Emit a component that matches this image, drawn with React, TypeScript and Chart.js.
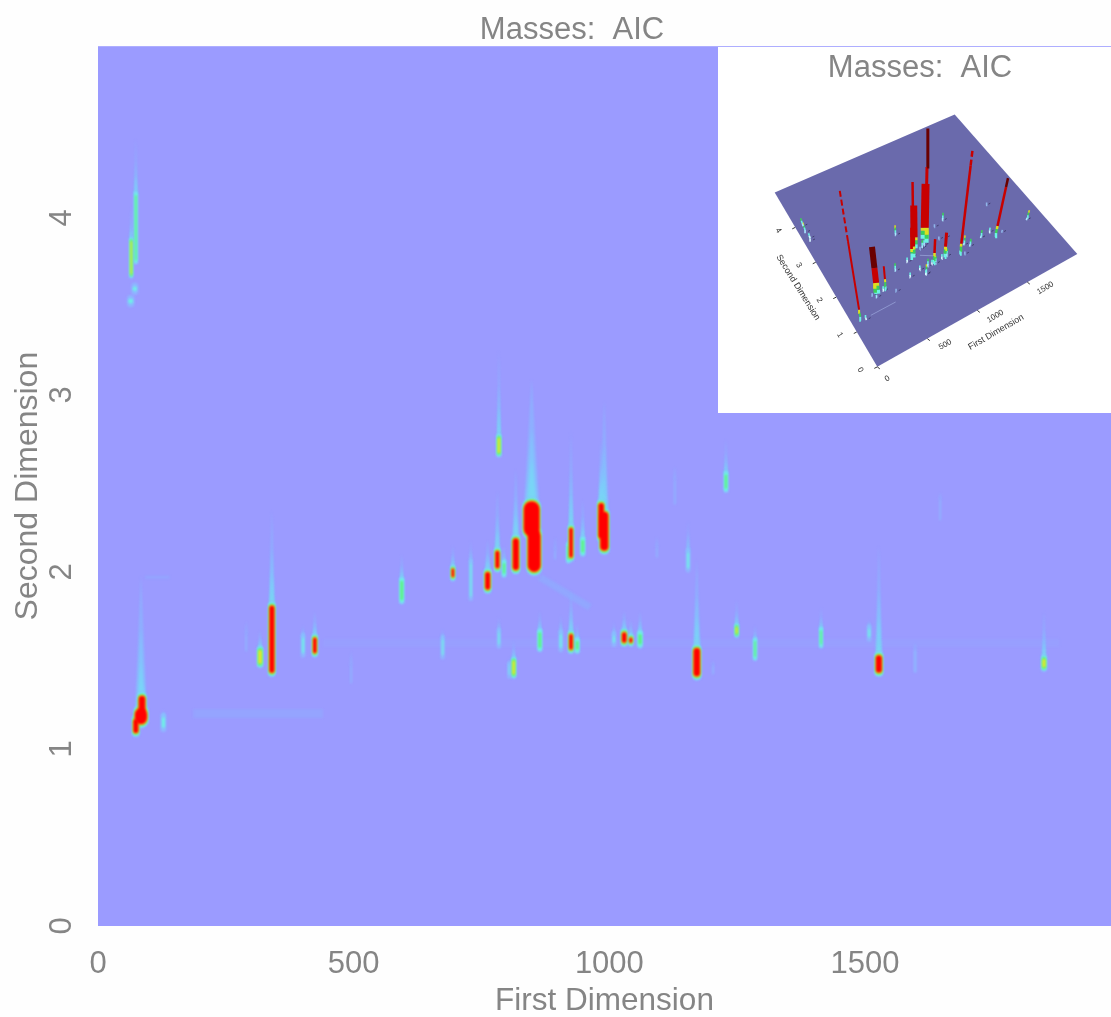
import React, { useEffect, useRef } from "react";
import { Chart, registerables } from "chart.js";

Chart.register(...registerables);

type Peak = number[]; // first dimension, low, high, width (first-dimension units), tail tip (second dimension)

const chartTitle = "Masses:  AIC";
const firstAxisTitle = "First Dimension";
const secondAxisTitle = "Second Dimension";
const firstTicks = [0, 500, 1000, 1500];
const secondTicks = [0, 1, 2, 3, 4];

const redPeaks: Peak[] = [
  [84, 1.14, 1.23, 24, 1.98], [86, 1.2, 1.3, 13, 1.4], [74, 1.09, 1.17, 10, 1.17],
  [340, 1.43, 1.81, 10, 2.35], [424, 1.54, 1.63, 7, 1.78], [694, 1.97, 2.02, 5, 2.15],
  [762, 1.9, 2.0, 10, 2.18], [781, 2.02, 2.12, 8, 2.46], [817, 2.01, 2.19, 12, 2.58],
  [848, 2.2, 2.4, 31, 3.09], [853, 2.0, 2.24, 25, 2.24], [925, 2.08, 2.25, 7, 2.8],
  [984, 2.19, 2.39, 11, 2.75], [990, 2.12, 2.34, 16, 2.97], [925, 1.56, 1.65, 7, 1.9],
  [1029, 1.6, 1.66, 9, 1.78], [1042, 1.6, 1.63, 6, 1.73], [1171, 1.41, 1.57, 13, 2.07],
  [1527, 1.43, 1.53, 12, 2.15],
];
const yellowPeaks: Peak[] = [
  [317, 1.48, 1.56, 7, 1.67], [784, 2.67, 2.76, 5, 3.25], [813, 1.42, 1.5, 5, 1.61],
  [1249, 1.65, 1.69, 4, 1.84], [1850, 1.46, 1.51, 6, 1.78], [65, 3.68, 3.87, 3, 4.07],
];
const greenPeaks: Peak[] = [
  [594, 1.84, 1.95, 5, 2.1], [794, 1.99, 2.05, 4, 2.15], [948, 2.11, 2.18, 5, 2.41],
  [864, 1.57, 1.66, 5, 1.78], [937, 1.56, 1.61, 5, 1.71], [1060, 1.59, 1.65, 6, 1.78],
  [1414, 1.59, 1.67, 3, 1.8], [1285, 1.52, 1.61, 3, 1.7], [74, 3.76, 4.13, 3, 4.45],
  [920, 2.07, 2.15, 4, 2.2], [1228, 2.47, 2.55, 4, 2.75],
];
const cyanPeaks: Peak[] = [
  [128, 1.12, 1.18, 6, 1.22], [729, 1.86, 2.05, 3, 2.18], [1154, 2.02, 2.11, 4, 2.29],
  [784, 1.59, 1.66, 3, 1.75], [905, 1.57, 1.65, 4, 1.76], [1009, 1.6, 1.64, 4, 1.72],
  [804, 1.42, 1.47, 2, 1.52], [1508, 1.63, 1.68, 4, 1.74], [72, 3.59, 3.61, 8, 3.62],
  [64, 3.52, 3.54, 9, 3.55], [401, 1.54, 1.63, 4, 1.7], [674, 1.53, 1.62, 3, 1.68],
];
const faintPeaks: Peak[] = [
  [495, 1.37, 1.47, 3, 1.55], [894, 2.07, 2.12, 3, 2.2], [1093, 2.08, 2.14, 3, 2.2],
  [1128, 2.38, 2.52, 3, 2.6], [1203, 1.42, 1.47, 3, 1.5], [1598, 1.43, 1.56, 5, 1.6],
  [1647, 2.29, 2.41, 3, 2.45], [290, 1.55, 1.65, 3, 1.72],
];
// faint ridges: first0, second0, first1, second1
const ridges: number[][] = [
  [186, 1.2, 440, 1.2], [864, 1.97, 962, 1.8], [92, 1.97, 140, 1.97], [440, 1.6, 1880, 1.6],
];
const ridgeAlpha = [0.25, 0.35, 0.3, 0.12];
const ridgeWeight = [9, 7, 3, 8];

// Inset surface spikes
const spikeFirst = [84, 340, 424, 850, 858, 800, 1000, 990, 925, 1040, 1170, 1527];
const spikeSecond = [1.2, 1.6, 1.58, 2.2, 2.2, 2.0, 2.3, 2.3, 1.6, 1.62, 1.5, 1.48];
const spikeHeight = [133, 47, 24, 67, 43, 30, 110, 55, 25, 25, 105, 59];
const spikeWeight = [2, 6, 2, 2.5, 7, 5, 3, 8, 2.5, 3, 2.5, 2.5];
const spikeDarkFrom = [1, 0.55, 1, 1, 1, 1, 0.65, 1, 1, 1, 1, 0.85];
const spikeBrokenFrom = [0.6, 1, 1, 1, 1, 1, 1, 1, 1, 1, 0.85, 1];

const COLORS = { faint: "rgba(135,195,255,0.7)", cyan: "#6df2e6", green: "#5cf07a", yellow: "#e6e52a", red: "#ff0000" };
const FIRST_MAX = 1981;
const SECOND_MAX = 4.97;

function lineDs(pts: { x: number; y: number }[], color: string, width: any, extra: any = {}) {
  return { data: pts, showLine: true, pointRadius: 0, borderColor: color, borderWidth: width, borderCapStyle: "butt", fill: false, ...extra };
}
function polyDs(pts: { x: number; y: number }[], color: string) {
  return { data: pts, showLine: true, pointRadius: 0, borderWidth: 0, borderColor: "transparent", backgroundColor: color, fill: "shape" };
}
const unitWidth = (w: number) => (ctx: any) => {
  const s = ctx.chart.scales.x;
  return Math.max(0.5, s.getPixelForValue(w) - s.getPixelForValue(0));
};
// how much of the second dimension a round cap of a line `w` first-dimension units wide covers
const capSpan = (w: number) => ((w / 2) * (1013 / FIRST_MAX)) * (SECOND_MAX / 880);

function mainDatasets() {
  const groups: [Peak[], number][] = [[faintPeaks, 0], [cyanPeaks, 1], [greenPeaks, 2], [yellowPeaks, 3], [redPeaks, 4]];
  const tails: any[] = [], cy: any[] = [], gr: any[] = [], ye: any[] = [], re: any[] = [], glow: any[] = [];
  ridges.forEach(([a, b, c, d], i) => {
    tails.push(lineDs([{ x: a, y: b }, { x: c, y: d }], `rgba(130,190,255,${ridgeAlpha[i]})`, ridgeWeight[i]));
  });
  groups.forEach(([rows, level]) => {
    rows.forEach(([x, lo, hi, w, tip]) => {
      const len = tip - hi;
      if (len > 0.02) {
        const tri = (bw: number, frac: number, col: string) =>
          tails.push(polyDs([{ x: x - bw / 2, y: hi }, { x, y: hi + len * frac }, { x: x + bw / 2, y: hi }, { x: x - bw / 2, y: hi }], col));
        tri(w * 0.8 + 4, 1, level >= 2 ? "rgba(130,195,255,0.5)" : "rgba(130,195,255,0.35)");
        if (level >= 1) tri(w * 0.7 + 3, 0.6, "rgba(115,225,245,0.55)");
        if (level >= 2) tri(w * 0.5 + 2, 0.35, "rgba(105,245,225,0.9)");
        if (level >= 3) tri(w * 0.45 + 1, 0.14, "rgba(95,240,130,0.95)");
      }
      const band = (extraW: number, extraY: number, col: string, bucket: any[]) => {
        const wide = w + extraW;
        const cap = capSpan(wide);
        let a = lo - extraY + cap, b = hi + extraY - cap;
        if (b - a < 0.002) { const m = (a + b) / 2; a = m - 0.001; b = m + 0.001; }
        bucket.push(lineDs([{ x, y: a }, { x, y: b }], col, unitWidth(wide), { borderCapStyle: "round" }));
      };
      if (level === 0) band(0, 0, COLORS.faint, cy);
      if (level >= 1) band(5, 0.024, COLORS.faint, glow);
      if (level >= 1) band(level === 1 ? 0 : 3.5, level === 1 ? 0 : 0.017, COLORS.cyan, cy);
      if (level >= 2) band(level === 2 ? 0 : 2, level === 2 ? 0 : 0.01, COLORS.green, gr);
      if (level >= 3) band(level === 3 ? 0 : 1, level === 3 ? 0 : 0.005, COLORS.yellow, ye);
      if (level >= 4) band(0, 0, COLORS.red, re);
    });
  });
  // Chart.js paints the first dataset last, so the red cores go first
  return [...re, ...ye, ...gr, ...cy, ...glow, ...tails];
}

// Inset projection: plane corners in view coordinates for (first, second)
const CORNER_00 = { x: 159.3, y: 275.7 };
const CORNER_10 = { x: 359.3, y: 162.3 };
const CORNER_11 = { x: 236.7, y: 22.3 };
const CORNER_01 = { x: 56.7, y: 100.7 };
const FIRST_RANGE = 2000;
const SECOND_RANGE = 5;

function project(first: number, second: number) {
  const u = first / FIRST_RANGE, v = second / SECOND_RANGE;
  const a = (1 - u) * (1 - v), b = u * (1 - v), c = u * v, d = (1 - u) * v;
  return {
    x: a * CORNER_00.x + b * CORNER_10.x + c * CORNER_11.x + d * CORNER_01.x,
    y: a * CORNER_00.y + b * CORNER_10.y + c * CORNER_11.y + d * CORNER_01.y,
  };
}
function riser(first: number, second: number, h0: number, h1: number) {
  const p = project(first, second);
  const lean = (p.x - 200) / 353;
  return [{ x: p.x + lean * h0, y: p.y - h0 }, { x: p.x + lean * h1, y: p.y - h1 }];
}

function insetDatasets() {
  const out: any[] = [];
  const plane = [project(0, 0), project(FIRST_RANGE, 0), project(FIRST_RANGE, SECOND_RANGE), project(0, SECOND_RANGE), project(0, 0)];
  const low: any[] = [];
  ridges.slice(0, 2).forEach(([a, b, c, d]) => low.push(lineDs([project(a, b), project(c, d)], "rgba(150,160,215,0.8)", 1)));
  const speck = (rows: Peak[], h: number, cols: string[]) =>
    rows.forEach(([x, lo, hi]) => {
      const mid = (lo + hi) / 2;
      cols.forEach((col, i) => low.push(lineDs(riser(x, mid, (h * i) / cols.length, (h * (i + 1)) / cols.length), col, 1.6)));
      low.push(lineDs([project(x + 25, mid), project(x + 45, mid)], "rgba(35,35,70,0.6)", 1));
    });
  speck(faintPeaks, 3, ["#8fb4e8"]);
  speck(cyanPeaks, 5, ["#d6f5ff", COLORS.cyan]);
  speck(greenPeaks, 8, ["#a9e8ff", COLORS.cyan, "#3ccf5a"]);
  speck(yellowPeaks, 10, ["#a9e8ff", COLORS.cyan, "#3ccf5a", "#d8d820"]);
  const spikes: any[] = [];
  spikeFirst.forEach((f, i) => {
    const s = spikeSecond[i], h = spikeHeight[i], w = spikeWeight[i];
    const layer = (a: number, b: number, col: string, extra: any = {}) =>
      spikes.push(lineDs(riser(f, s, a, b), col, w, extra));
    layer(0, 4, COLORS.cyan);
    layer(4, 8, "#3ccf5a");
    layer(8, 11, "#dede20");
    const broken = spikeBrokenFrom[i], dark = spikeDarkFrom[i];
    const solidTo = Math.min(broken, dark) * h;
    layer(11, solidTo, "#c80000");
    if (broken < 1) layer(broken * h, h, "#c80000", { borderDash: [6, 3] });
    if (dark < 1) layer(dark * h, h, "#6a0000");
  });
  const marks: any[] = [];
  firstTicks.forEach((t) => {
    const p = project(t, 0);
    marks.push(lineDs([p, { x: p.x + 2.5, y: p.y + 2 }], "#333", 1));
  });
  secondTicks.forEach((t) => {
    const p = project(0, t);
    marks.push(lineDs([p, { x: p.x - 3, y: p.y + 1.5 }], "#333", 1));
  });
  out.push(...spikes.reverse(), ...low, ...marks, polyDs(plane, "#6a6aac"));
  return out;
}

const plotBackground = {
  id: "plotBackground",
  beforeDatasetsDraw(chart: any) {
    const { ctx, chartArea: a } = chart;
    ctx.save();
    ctx.fillStyle = "#9b9bff";
    ctx.fillRect(a.left, a.top, a.right - a.left, a.bottom - a.top);
    ctx.restore();
  },
};
const softFocus = (id: string, px: number) => ({
  id,
  beforeDatasetsDraw(chart: any) {
    chart.ctx.save();
    chart.ctx.filter = `blur(${px}px)`;
  },
  afterDatasetsDraw(chart: any) {
    chart.ctx.restore();
  },
});
const insetLabels = {
  id: "insetLabels",
  afterDatasetsDraw(chart: any) {
    const { ctx, scales } = chart;
    const put = (text: string, vx: number, vy: number, angle: number, size: number) => {
      ctx.save();
      ctx.translate(scales.x.getPixelForValue(vx), scales.y.getPixelForValue(vy));
      ctx.rotate((angle * Math.PI) / 180);
      ctx.font = `${size}px "Liberation Sans"`;
      ctx.fillStyle = "#333";
      ctx.textAlign = "center";
      ctx.textBaseline = "middle";
      ctx.fillText(text, 0, 0);
      ctx.restore();
    };
    firstTicks.forEach((t) => {
      const p = project(t, 0);
      put(String(t), p.x + (t === 0 ? 10 : 18), p.y + (t === 0 ? 12 : 6), -30, 8);
    });
    secondTicks.forEach((t) => {
      const p = project(0, t);
      put(String(t), p.x - 17, p.y + 3, 58, 8);
    });
    put(firstAxisTitle, 278, 241, -30, 9);
    put(secondAxisTitle, 80, 196, 58, 9);
  },
};

const GREY = "#858585";
const FONT = '"Liberation Sans", Arial, sans-serif';
const useTicks = (values: number[]) => (s: any) => { s.ticks = values.map((value) => ({ value })); };

export default function App() {
  const mainRef = useRef<HTMLCanvasElement>(null);
  const insetRef = useRef<HTMLCanvasElement>(null);

  useEffect(() => {
    document.body.style.margin = "0";
    const main = new Chart(mainRef.current as any, {
      type: "scatter",
      data: { datasets: mainDatasets() as any },
      plugins: [plotBackground, softFocus("softMain", 1)],
      options: {
        animation: false,
        responsive: false,
        layout: { padding: { left: 33 } },
        plugins: {
          legend: { display: false },
          tooltip: { enabled: false },
          title: {
            display: true,
            text: chartTitle,
            color: GREY,
            font: { family: FONT, size: 31, weight: "normal", lineHeight: 1.2 },
            padding: { top: 12, bottom: -3 },
          },
        },
        scales: {
          x: {
            type: "linear",
            min: 0,
            max: FIRST_MAX,
            afterBuildTicks: useTicks(firstTicks),
            afterFit: (s: any) => { s.height = 91; },
            grid: { display: false, drawTicks: true, tickLength: 20 },
            border: { display: false },
            ticks: { autoSkip: false, maxRotation: 0, padding: 0, color: GREY, font: { family: FONT, size: 31 }, callback: (v: any) => String(v) },
            title: { display: true, text: firstAxisTitle, color: GREY, font: { family: FONT, size: 31.5, lineHeight: 1.2 }, padding: { top: 0, bottom: -3 } },
          },
          y: {
            type: "linear",
            min: 0,
            max: SECOND_MAX,
            afterBuildTicks: useTicks(secondTicks),
            afterFit: (s: any) => { s.width = 65; },
            grid: { display: false, drawTicks: true, tickLength: 27 },
            border: { display: false },
            ticks: { autoSkip: false, minRotation: 90, maxRotation: 90, crossAlign: "center", padding: 0, color: GREY, font: { family: FONT, size: 31 }, callback: (v: any) => String(v) },
            title: { display: true, text: secondAxisTitle, color: GREY, font: { family: FONT, size: 32, lineHeight: 1.2 }, padding: { top: -24, bottom: 0 } },
          },
        },
      } as any,
    });

    const inset = new Chart(insetRef.current as any, {
      type: "scatter",
      data: { datasets: insetDatasets() as any },
      plugins: [insetLabels],
      options: {
        animation: false,
        responsive: false,
        layout: { padding: { left: 11 } },
        plugins: {
          legend: { display: false },
          tooltip: { enabled: false },
          title: {
            display: true,
            text: chartTitle,
            color: GREY,
            font: { family: FONT, size: 31, weight: "normal", lineHeight: 1.2 },
            padding: { top: 3, bottom: 5 },
          },
        },
        scales: {
          x: { type: "linear", display: false, min: 11, max: 393 },
          y: { type: "linear", display: false, min: 0, max: 322, reverse: true },
        },
      } as any,
    });
    return () => {
      main.destroy();
      inset.destroy();
    };
  }, []);

  return (
    <div style={{ position: "absolute", left: 0, top: 0, width: 1111, height: 1017, overflow: "hidden", background: "#fefefe" }}>
      <canvas ref={mainRef} width={1111} height={1017} style={{ position: "absolute", left: 0, top: 0, width: 1111, height: 1017 }} />
      <div style={{ position: "absolute", left: 718, top: 47, width: 393, height: 366, overflow: "hidden", background: "#ffffff" }}>
        <canvas ref={insetRef} width={393} height={366} style={{ position: "absolute", left: 0, top: 0, width: 393, height: 366, filter: "blur(0.7px)" }} />
      </div>
    </div>
  );
}
